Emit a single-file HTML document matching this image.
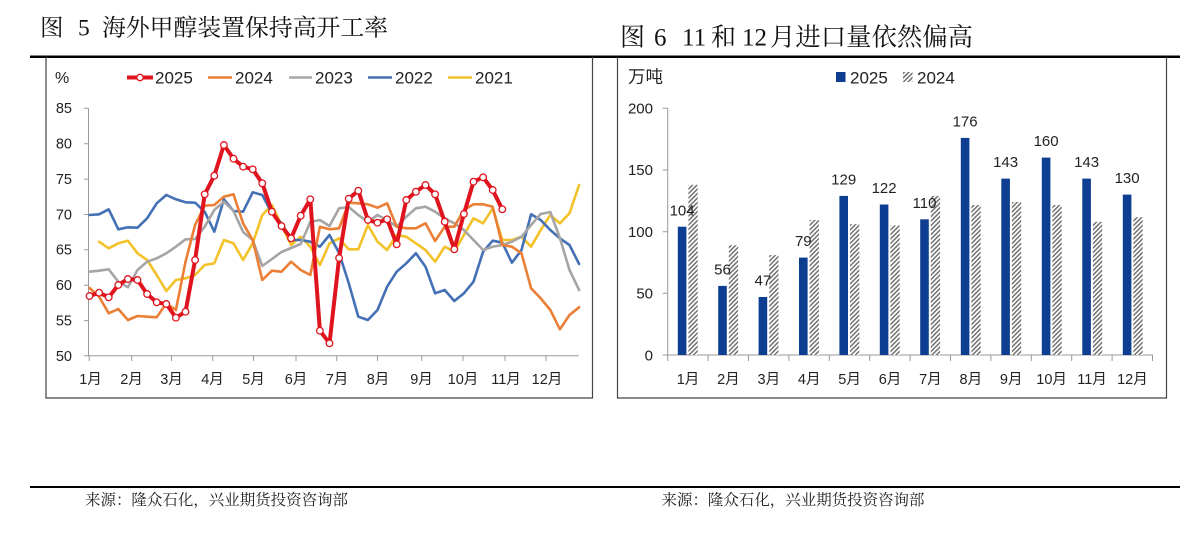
<!DOCTYPE html>
<html><head><meta charset="utf-8"><style>
html,body{margin:0;padding:0;background:#fff;}
svg{display:block;}
</style></head><body>
<svg width="1202" height="540" viewBox="0 0 1202 540" xmlns="http://www.w3.org/2000/svg">
<defs>
<pattern id="hatch" patternUnits="userSpaceOnUse" width="4.5" height="4.5">
<rect width="4.5" height="4.5" fill="#fff"/>
<path d="M-1.2,1.2 L1.2,-1.2 M0,4.5 L4.5,0 M3.3,5.7 L5.7,3.3" stroke="#6f6f6f" stroke-width="1.5"/>
</pattern>
</defs>

<!-- Titles -->
<g font-family="'Liberation Serif','Noto Serif CJK SC',serif" fill="#111">
<text x="40" y="35.5" font-size="23.5">图</text>
<text x="78" y="35.5" font-size="23.5">5</text>
<text x="102" y="35.5" font-size="23.5" textLength="286" lengthAdjust="spacingAndGlyphs">海外甲醇装置保持高开工率</text>
<text x="620" y="45.5" font-size="25">图</text>
<text x="654" y="45.5" font-size="25">6</text>
<text x="682" y="45.5" font-size="25">11</text>
<text x="711" y="45.5" font-size="25">和</text>
<text x="742" y="45.5" font-size="25">12</text>
<text x="770" y="45.5" font-size="25" textLength="203" lengthAdjust="spacingAndGlyphs">月进口量依然偏高</text>
</g>

<!-- rules -->
<line x1="30" y1="56.8" x2="1180" y2="56.8" stroke="#000" stroke-width="2.5"/>
<line x1="30" y1="487" x2="1180" y2="487" stroke="#000" stroke-width="2"/>

<!-- boxes -->
<polyline points="46,57 46,398 592.5,398 592.5,57" fill="none" stroke="#444" stroke-width="1.2"/>
<polyline points="617.5,57 617.5,398 1166.5,398 1166.5,57" fill="none" stroke="#444" stroke-width="1.2"/>

<!-- ===== Left chart ===== -->
<g font-family="'Liberation Sans','Noto Sans CJK SC',sans-serif" fill="#222">
<text x="55" y="83" font-size="16">%</text>
<g font-size="14.5" text-anchor="end">
<text x="72" y="113">85</text>
<text x="72" y="148.5">80</text>
<text x="72" y="184">75</text>
<text x="72" y="219.5">70</text>
<text x="72" y="254.5">65</text>
<text x="72" y="290">60</text>
<text x="72" y="325.5">55</text>
<text x="72" y="361">50</text>
</g>
<g font-size="14.5" text-anchor="middle">
<text x="90.5" y="384">1月</text>
<text x="131.5" y="384">2月</text>
<text x="171.5" y="384">3月</text>
<text x="212.5" y="384">4月</text>
<text x="253.5" y="384">5月</text>
<text x="296" y="384">6月</text>
<text x="337" y="384">7月</text>
<text x="378" y="384">8月</text>
<text x="421.5" y="384">9月</text>
<text x="463" y="384">10月</text>
<text x="506" y="384">11月</text>
<text x="547" y="384">12月</text>
</g>
</g>
<g stroke="#9a9a9a" stroke-width="1">
<line x1="88.5" y1="108" x2="88.5" y2="355.7"/>
<line x1="88.5" y1="355.7" x2="579" y2="355.7"/>
<path d="M84,108.3H88.5M84,143.7H88.5M84,179.1H88.5M84,214.5H88.5M84,249.8H88.5M84,285.2H88.5M84,320.6H88.5M84,355.7H88.5"/>
<path d="M89.3,355.7V361M131.7,355.7V361M171.5,355.7V361M212.7,355.7V361M253.5,355.7V361M296,355.7V361M336.7,355.7V361M377.5,355.7V361M421.8,355.7V361M463,355.7V361M505,355.7V361M546,355.7V361"/>
</g>

<!-- legend left -->
<g font-family="'Liberation Sans',sans-serif" font-size="17" fill="#222">
<line x1="127" y1="77.5" x2="153" y2="77.5" stroke="#E0141E" stroke-width="4"/>
<circle cx="140" cy="77.5" r="3.2" fill="#fff" stroke="#E0141E" stroke-width="1.3"/>
<text x="155" y="83.5">2025</text>
<line x1="208" y1="77.5" x2="232" y2="77.5" stroke="#EB7F36" stroke-width="2.5"/>
<text x="235" y="83.5">2024</text>
<line x1="289" y1="77.5" x2="312" y2="77.5" stroke="#A5A5A5" stroke-width="2.5"/>
<text x="315" y="83.5">2023</text>
<line x1="368" y1="77.5" x2="392" y2="77.5" stroke="#4470B5" stroke-width="2.5"/>
<text x="395" y="83.5">2022</text>
<line x1="448" y1="77.5" x2="472" y2="77.5" stroke="#F3C12A" stroke-width="2.5"/>
<text x="475" y="83.5">2021</text>
</g>

<g fill="none" stroke-linejoin="round" stroke-linecap="round">
<polyline stroke="#F3C12A" stroke-width="2.6" points="99.1,241.7 108.7,248.3 118.3,243.3 127.9,240.7 137.5,253.3 147.1,260 156.7,275 166.3,291 175.9,280 185.5,278.3 195.1,275 204.7,265 214.3,263.3 223.9,240 233.5,243.3 243.1,260 252.7,243.3 262.3,215 271.9,205 281.5,225 291.1,245 300.7,236.7 310.3,246.7 319.9,265 329.5,243.3 339.1,238.3 348.7,249.3 358.3,249.3 367.9,225 377.5,241.7 387.1,250 396.7,235 406.3,236.7 415.9,243.3 425.5,250 435.1,261.7 444.7,246.7 454.3,251.7 463.9,235 473.5,218.3 483.1,223.3 492.7,208.3 502.3,240 511.9,240 521.5,236.7 531.1,246.7 540.7,230 550.3,215 559.9,223.3 569.5,213.3 579.1,185"/>
<polyline stroke="#4470B5" stroke-width="2.6" points="89.5,215 99.1,214.3 108.7,209.3 118.3,229.3 127.9,227.3 137.5,227.7 147.1,218.3 156.7,203.3 166.3,195 175.9,199.3 185.5,202.3 195.1,202.7 204.7,211.7 214.3,231.7 223.9,199.3 233.5,211 243.1,211.7 252.7,192.3 262.3,195 271.9,213.3 281.5,223.3 291.1,240 300.7,240 310.3,241.7 319.9,246.7 329.5,235 339.1,253 348.7,283 358.3,316.7 367.9,320 377.5,310 387.1,286.7 396.7,271.7 406.3,263.3 415.9,253.3 425.5,266.7 435.1,293.3 444.7,290 454.3,301 463.9,293.3 473.5,281.7 483.1,251.7 492.7,240.7 502.3,242.7 511.9,262.7 521.5,250 531.1,214.3 540.7,220 550.3,230 559.9,238.3 569.5,245 579.1,264"/>
<polyline stroke="#A5A5A5" stroke-width="2.6" points="89.5,271.7 99.1,270.7 108.7,269.3 118.3,281.7 127.9,287.3 137.5,270 147.1,261.7 156.7,258.3 166.3,253.3 175.9,246.7 185.5,239.3 195.1,239 204.7,226.7 214.3,210 223.9,201.7 233.5,211 243.1,232 252.7,240 262.3,266 271.9,259 281.5,252 291.1,248 300.7,244 310.3,222 319.9,220 329.5,226 339.1,208.3 348.7,207 358.3,215 367.9,221.7 377.5,215 387.1,220 396.7,226.7 406.3,216.7 415.9,208.3 425.5,206.7 435.1,211.7 444.7,218.3 454.3,223.3 463.9,230 473.5,240 483.1,250 492.7,246.7 502.3,245 511.9,241.7 521.5,236.7 531.1,225 540.7,214 550.3,212 559.9,238 569.5,270 579.1,290"/>
<polyline stroke="#EB7F36" stroke-width="2.6" points="89.5,288 99.1,296.7 108.7,313.3 118.3,309 127.9,320 137.5,316 147.1,316.7 156.7,317.3 166.3,303.3 175.9,310 185.5,261.7 195.1,225 204.7,205.7 214.3,205 223.9,196.7 233.5,194.3 243.1,223.3 252.7,240 262.3,280 271.9,270.7 281.5,271.7 291.1,261.7 300.7,270 310.3,275 319.9,226.7 329.5,229.3 339.1,228.3 348.7,202.7 358.3,203.3 367.9,204.3 377.5,207.7 387.1,203.3 396.7,226.7 406.3,228.3 415.9,228.3 425.5,223.3 435.1,241 444.7,226.7 454.3,226.7 463.9,210 473.5,204.3 483.1,204.3 492.7,206.7 502.3,245 511.9,246.7 521.5,253.3 531.1,288.3 540.7,298.3 550.3,310 559.9,329.3 569.5,315 579.1,307.3"/>
<polyline stroke="#E0141E" stroke-width="4" points="89.5,296 99.1,292.7 108.7,297.3 118.3,285 127.9,279 137.5,280 147.1,294 156.7,302.3 166.3,304 175.9,317.7 185.5,311.7 195.1,260 204.7,194.3 214.3,175.7 223.9,145 233.5,158.7 243.1,166.7 252.7,169.3 262.3,183.3 271.9,211.7 281.5,226 291.1,238.3 300.7,215.7 310.3,199.3 319.9,330.7 329.5,343.3 339.1,258 348.7,198.7 358.3,190.7 367.9,220 377.5,222.7 387.1,219.3 396.7,244.3 406.3,200 415.9,191.7 425.5,185 435.1,194.3 444.7,221.7 454.3,249.3 463.9,214 473.5,181.7 483.1,177.3 492.7,190 502.3,209.3"/>
</g>
<g fill="#fff" stroke="#E0141E" stroke-width="1.3">
<circle cx="89.5" cy="296" r="3.3"/><circle cx="99.1" cy="292.7" r="3.3"/><circle cx="108.7" cy="297.3" r="3.3"/><circle cx="118.3" cy="285" r="3.3"/><circle cx="127.9" cy="279" r="3.3"/><circle cx="137.5" cy="280" r="3.3"/><circle cx="147.1" cy="294" r="3.3"/><circle cx="156.7" cy="302.3" r="3.3"/><circle cx="166.3" cy="304" r="3.3"/><circle cx="175.9" cy="317.7" r="3.3"/><circle cx="185.5" cy="311.7" r="3.3"/><circle cx="195.1" cy="260" r="3.3"/><circle cx="204.7" cy="194.3" r="3.3"/><circle cx="214.3" cy="175.7" r="3.3"/><circle cx="223.9" cy="145" r="3.3"/><circle cx="233.5" cy="158.7" r="3.3"/><circle cx="243.1" cy="166.7" r="3.3"/><circle cx="252.7" cy="169.3" r="3.3"/><circle cx="262.3" cy="183.3" r="3.3"/><circle cx="271.9" cy="211.7" r="3.3"/><circle cx="281.5" cy="226" r="3.3"/><circle cx="291.1" cy="238.3" r="3.3"/><circle cx="300.7" cy="215.7" r="3.3"/><circle cx="310.3" cy="199.3" r="3.3"/><circle cx="319.9" cy="330.7" r="3.3"/><circle cx="329.5" cy="343.3" r="3.3"/><circle cx="339.1" cy="258" r="3.3"/><circle cx="348.7" cy="198.7" r="3.3"/><circle cx="358.3" cy="190.7" r="3.3"/><circle cx="367.9" cy="220" r="3.3"/><circle cx="377.5" cy="222.7" r="3.3"/><circle cx="387.1" cy="219.3" r="3.3"/><circle cx="396.7" cy="244.3" r="3.3"/><circle cx="406.3" cy="200" r="3.3"/><circle cx="415.9" cy="191.7" r="3.3"/><circle cx="425.5" cy="185" r="3.3"/><circle cx="435.1" cy="194.3" r="3.3"/><circle cx="444.7" cy="221.7" r="3.3"/><circle cx="454.3" cy="249.3" r="3.3"/><circle cx="463.9" cy="214" r="3.3"/><circle cx="473.5" cy="181.7" r="3.3"/><circle cx="483.1" cy="177.3" r="3.3"/><circle cx="492.7" cy="190" r="3.3"/><circle cx="502.3" cy="209.3" r="3.3"/>
</g>

<!-- ===== Right chart ===== -->
<g font-family="'Liberation Sans','Noto Sans CJK SC',sans-serif" fill="#222">
<text x="628" y="82.5" font-size="17" textLength="35" lengthAdjust="spacingAndGlyphs">万吨</text>
<rect x="836" y="72" width="9.5" height="10" fill="#0E3E92"/>
<text x="850" y="83.5" font-size="17">2025</text>
<rect x="903" y="72" width="9.5" height="10" fill="url(#hatch)"/>
<text x="917" y="83.5" font-size="17">2024</text>
<g font-size="15" text-anchor="end">
<text x="653" y="113.5">200</text>
<text x="653" y="175">150</text>
<text x="653" y="237">100</text>
<text x="653" y="298.5">50</text>
<text x="653" y="360.5">0</text>
</g>
<g font-size="14.5" text-anchor="middle">
<text x="688" y="384">1月</text>
<text x="728.4" y="384">2月</text>
<text x="768.8" y="384">3月</text>
<text x="809.2" y="384">4月</text>
<text x="849.6" y="384">5月</text>
<text x="890" y="384">6月</text>
<text x="930.4" y="384">7月</text>
<text x="970.8" y="384">8月</text>
<text x="1011.2" y="384">9月</text>
<text x="1051.6" y="384">10月</text>
<text x="1092" y="384">11月</text>
<text x="1132.4" y="384">12月</text>
</g>
</g>
<g stroke="#9a9a9a" stroke-width="1">
<line x1="667.7" y1="108.3" x2="667.7" y2="355"/>
<line x1="667.7" y1="355" x2="1153" y2="355"/>
<path d="M662.7,108.3H667.7M662.7,170H667.7M662.7,231.7H667.7M662.7,293.3H667.7M662.7,355H667.7"/>
<path d="M667.7,355V361M708.1,355V361M748.5,355V361M788.9,355V361M829.3,355V361M869.7,355V361M910.1,355V361M950.5,355V361M990.9,355V361M1031.3,355V361M1071.7,355V361M1112.1,355V361M1152.5,355V361"/>
</g>

<!-- bars 2025 -->
<g fill="#0E3E92">
<rect x="677.8" y="226.7" width="8.6" height="128.3"/>
<rect x="718.2" y="285.9" width="8.6" height="69.1"/>
<rect x="758.6" y="297" width="8.6" height="58"/>
<rect x="799" y="257.6" width="8.6" height="97.4"/>
<rect x="839.4" y="195.9" width="8.6" height="159.1"/>
<rect x="879.8" y="204.5" width="8.6" height="150.5"/>
<rect x="920.2" y="219.3" width="8.6" height="135.7"/>
<rect x="960.8" y="137.9" width="8.6" height="217.1"/>
<rect x="1001.3" y="178.6" width="8.6" height="176.4"/>
<rect x="1041.8" y="157.6" width="8.6" height="197.4"/>
<rect x="1082.3" y="178.6" width="8.6" height="176.4"/>
<rect x="1122.8" y="194.6" width="8.6" height="160.4"/>
</g>
<!-- bars 2024 hatched -->
<g fill="url(#hatch)">
<rect x="688.4" y="184.8" width="9.3" height="170.2"/>
<rect x="728.8" y="245.2" width="9.3" height="109.8"/>
<rect x="769.2" y="255.1" width="9.3" height="99.9"/>
<rect x="809.6" y="219.9" width="9.3" height="135.1"/>
<rect x="850" y="224.2" width="9.3" height="130.8"/>
<rect x="890.4" y="225.5" width="9.3" height="129.5"/>
<rect x="930.8" y="195.9" width="9.3" height="159.1"/>
<rect x="971.4" y="205" width="9.3" height="150"/>
<rect x="1011.9" y="202" width="9.3" height="153"/>
<rect x="1052.4" y="205" width="9.3" height="150"/>
<rect x="1092.9" y="221.8" width="9.3" height="133.2"/>
<rect x="1133.4" y="217.2" width="9.3" height="137.8"/>
</g>
<!-- bar labels -->
<g font-family="'Liberation Sans',sans-serif" font-size="15" fill="#222" text-anchor="middle">
<text x="682.1" y="215.3">104</text>
<text x="722.5" y="274.5">56</text>
<text x="762.9" y="285.6">47</text>
<text x="803.3" y="246.2">79</text>
<text x="843.7" y="184.5">129</text>
<text x="884.1" y="193.1">122</text>
<text x="924.5" y="207.9">110</text>
<text x="965.1" y="126.5">176</text>
<text x="1005.6" y="167.2">143</text>
<text x="1046.1" y="146.2">160</text>
<text x="1086.6" y="167.2">143</text>
<text x="1127.1" y="183.2">130</text>
</g>

<!-- footers -->
<g font-family="'Liberation Serif','Noto Serif CJK SC',serif" font-size="15.5" fill="#222">
<text x="85" y="505" textLength="263" lengthAdjust="spacingAndGlyphs">来源：隆众石化，兴业期货投资咨询部</text>
<text x="661.5" y="505" textLength="263" lengthAdjust="spacingAndGlyphs">来源：隆众石化，兴业期货投资咨询部</text>
</g>
</svg>
</body></html>
